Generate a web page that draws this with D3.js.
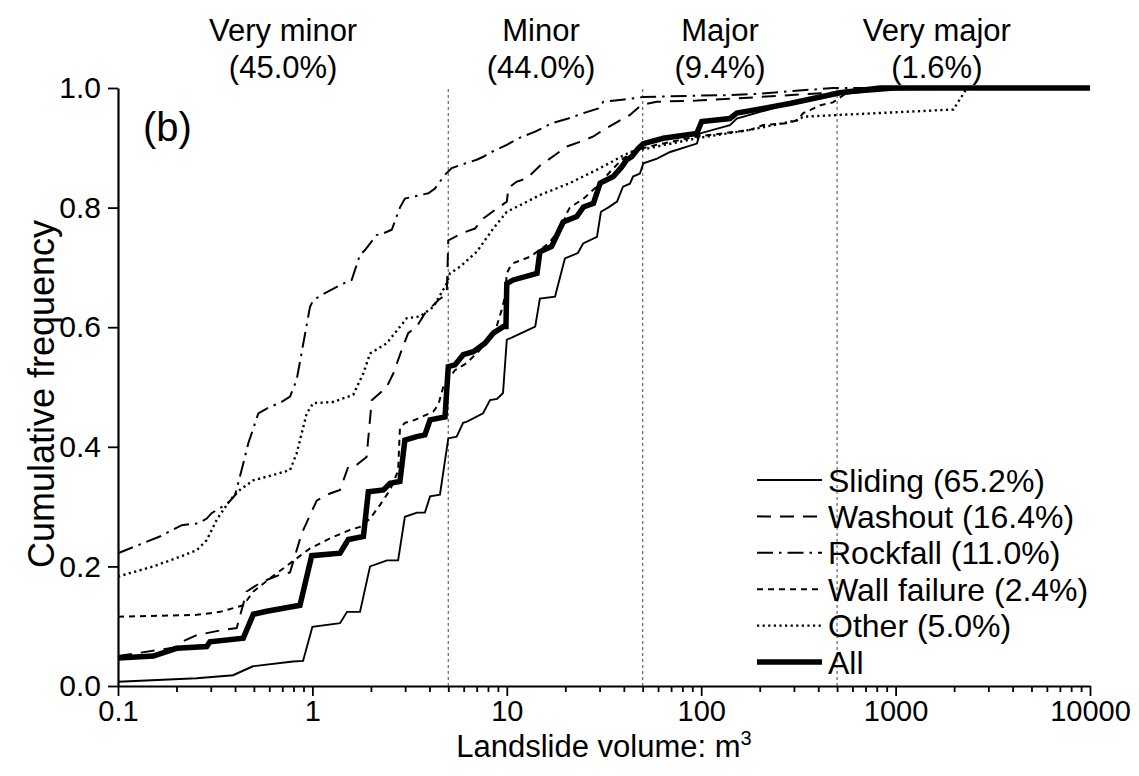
<!DOCTYPE html>
<html><head><meta charset="utf-8">
<script src="https://cdn.jsdelivr.net/npm/d3@7"></script>
<style>
body{margin:0;background:#fff}
svg text{font-family:"Liberation Sans",Arial,sans-serif;fill:#000}
</style>
</head><body>
<svg id="chart" width="1139" height="776"></svg>
<script>
// ---------- data ----------
const categories = ["Very minor", "Minor", "Major", "Very major"];
const categoryShares = ["(45.0%)", "(44.0%)", "(9.4%)", "(1.6%)"];
const classBounds = [5, 50, 500];
const seriesNames = ["Sliding (65.2%)", "Washout (16.4%)", "Rockfall (11.0%)", "Wall failure (2.4%)", "Other (5.0%)", "All"];
const xTickValues = [0.1, 1, 10, 100, 1000, 10000];
const yTickValues = [0, 0.2, 0.4, 0.6, 0.8, 1.0];

// [volume m3, cumulative frequency]
const sliding = [[0.1,0.007],[0.254,0.013],[0.391,0.018],[0.494,0.033],[0.794,0.041],[0.895,0.042],[1.0,0.099],[1.387,0.105],[1.507,0.124],[1.757,0.124],[1.98,0.2],[2.42,0.21],[2.76,0.21],[2.99,0.283],[3.45,0.29],[3.79,0.29],[4.03,0.317],[4.53,0.32],[5.0,0.414],[5.52,0.417],[5.96,0.44],[6.24,0.442],[7.55,0.456],[8.2,0.478],[8.91,0.48],[9.56,0.49],[10.0,0.579],[10.8,0.584],[14.0,0.601],[14.8,0.648],[17.7,0.651],[19.9,0.715],[23.2,0.724],[24.7,0.74],[29.1,0.751],[30.5,0.793],[33.2,0.80],[36.9,0.81],[39.6,0.835],[43.0,0.84],[44.6,0.852],[48.4,0.857],[50.4,0.874],[59.3,0.882],[69.2,0.893],[95,0.907],[98.6,0.924],[140.6,0.938],[152.4,0.949],[286,0.974],[517,0.99],[1054,0.998],[10000,1.0]];
const washout = [[0.1,0.05],[0.2,0.065],[0.213,0.074],[0.254,0.085],[0.348,0.094],[0.408,0.097],[0.459,0.158],[0.548,0.174],[0.681,0.186],[0.767,0.19],[0.881,0.255],[1.052,0.31],[1.232,0.322],[1.387,0.328],[1.53,0.367],[1.69,0.37],[1.90,0.383],[2.02,0.478],[2.41,0.50],[2.61,0.523],[2.88,0.562],[3.11,0.59],[3.44,0.601],[3.79,0.623],[4.44,0.645],[4.91,0.656],[5.0,0.745],[5.86,0.757],[6.86,0.765],[7.57,0.782],[8.69,0.796],[10.0,0.81],[10.2,0.833],[11.2,0.843],[12.7,0.849],[14.8,0.87],[17.7,0.888],[20.3,0.902],[23.8,0.91],[27.9,0.919],[31.4,0.93],[36.0,0.941],[43.0,0.955],[49.4,0.972],[59,0.977],[95,0.979],[140,0.982],[201,0.985],[349,0.99],[517,0.993],[900,1.0],[10000,1.0]];
const rockfall = [[0.1,0.222],[0.135,0.239],[0.164,0.25],[0.213,0.269],[0.259,0.272],[0.286,0.28],[0.303,0.289],[0.369,0.306],[0.40,0.319],[0.441,0.372],[0.468,0.406],[0.497,0.431],[0.527,0.456],[0.582,0.464],[0.695,0.475],[0.767,0.484],[0.83,0.512],[0.898,0.573],[0.972,0.634],[1.01,0.645],[1.116,0.654],[1.442,0.673],[1.592,0.679],[1.757,0.721],[1.865,0.729],[2.14,0.754],[2.32,0.757],[2.56,0.763],[2.82,0.80],[2.99,0.815],[3.58,0.821],[3.95,0.824],[4.27,0.832],[4.81,0.855],[5.21,0.866],[5.74,0.871],[7.0,0.88],[7.57,0.885],[8.36,0.893],[10.0,0.905],[11.5,0.916],[14.0,0.927],[17.0,0.941],[20.7,0.949],[24.8,0.958],[29.6,0.966],[31.4,0.977],[38.2,0.98],[50.4,0.985],[90,0.987],[135,0.988],[194,0.99],[297,0.995],[476,1.0],[10000,1.0]];
const wallFailure = [[0.1,0.116],[0.254,0.119],[0.335,0.124],[0.441,0.135],[0.497,0.158],[0.605,0.18],[0.767,0.205],[0.972,0.23],[1.232,0.247],[1.56,0.261],[1.757,0.266],[1.98,0.28],[2.23,0.303],[2.51,0.328],[2.76,0.36],[2.82,0.431],[2.99,0.44],[3.37,0.445],[4.19,0.459],[4.44,0.47],[4.71,0.50],[4.81,0.506],[5.41,0.528],[6.22,0.54],[7.13,0.559],[8.69,0.592],[9.41,0.629],[9.79,0.651],[10.0,0.69],[10.4,0.701],[10.8,0.707],[13.2,0.718],[16.4,0.74],[19.2,0.768],[20.3,0.79],[21.1,0.80],[24.8,0.815],[29.0,0.835],[34.0,0.86],[39.0,0.88],[45.6,0.896],[59.0,0.905],[95,0.919],[136,0.925],[178,0.93],[208.6,0.938],[273,0.941],[311,0.946],[335,0.958],[363,0.963],[409,0.971],[476,0.976],[549,0.99],[832,1.0],[10000,1.0]];
const other = [[0.1,0.183],[0.152,0.2],[0.208,0.216],[0.254,0.227],[0.286,0.244],[0.322,0.278],[0.377,0.311],[0.424,0.328],[0.497,0.344],[0.629,0.353],[0.767,0.361],[0.83,0.389],[0.935,0.456],[1.01,0.473],[1.281,0.475],[1.622,0.487],[1.828,0.523],[1.98,0.556],[2.41,0.573],[3.06,0.615],[3.58,0.618],[4.19,0.634],[4.91,0.673],[5.1,0.69],[5.74,0.701],[7.0,0.726],[8.52,0.765],[10.0,0.793],[11.7,0.804],[14.8,0.821],[21.1,0.841],[30.2,0.866],[43.0,0.893],[59.0,0.902],[95,0.916],[178,0.93],[311,0.946],[335,0.952],[517,0.955],[1982,0.964],[2230,0.99],[2328,1.0],[10000,1.0]];
const all = [[0.1,0.047],[0.152,0.05],[0.2,0.063],[0.286,0.066],[0.297,0.074],[0.441,0.08],[0.497,0.12],[0.582,0.125],[0.863,0.135],[0.992,0.218],[1.387,0.222],[1.53,0.245],[1.83,0.25],[1.94,0.325],[2.32,0.328],[2.51,0.339],[2.82,0.342],[2.99,0.411],[3.44,0.417],[3.79,0.42],[4.03,0.445],[4.81,0.45],[5.0,0.534],[5.41,0.537],[5.97,0.554],[6.73,0.559],[7.72,0.573],[8.52,0.59],[9.6,0.601],[9.9,0.601],[10.0,0.673],[10.8,0.679],[14.3,0.69],[14.8,0.726],[17.0,0.735],[19.5,0.776],[22.9,0.785],[24.8,0.801],[27.9,0.807],[30.2,0.841],[35.3,0.852],[39.0,0.868],[41.4,0.88],[43.9,0.885],[47.5,0.899],[50.4,0.907],[63.8,0.916],[94.8,0.924],[100.6,0.944],[140.6,0.949],[152.4,0.958],[208.6,0.966],[286,0.974],[517,0.992],[832,1.0],[10000,1.0]];

// ---------- drawing ----------
const svg = d3.select("#chart");
const M = {left:118, right:1090, top:88, bottom:686};
const x = d3.scaleLog().domain([0.1, 10000]).range([M.left, M.right]);
const y = d3.scaleLinear().domain([0, 1]).range([M.bottom, M.top]);

const styles = [
  {w:1.9, dash:null},
  {w:2, dash:"14,9"},
  {w:2, dash:"16,6,2.5,6"},
  {w:2, dash:"6,5"},
  {w:2.4, dash:"2.2,3.4"},
  {w:5.5, dash:null}
];
const seriesData = [sliding, washout, rockfall, wallFailure, other, all];

// class boundaries
svg.append("g").selectAll("line").data(classBounds).join("line")
  .attr("x1", d => x(d)).attr("x2", d => x(d))
  .attr("y1", y(0)).attr("y2", y(1))
  .attr("stroke", "#666").attr("stroke-width", 1.2).attr("stroke-dasharray", "3,3");

// category labels
const labelAnchors = [0.707, 15.0, 125, 1630];
const hdr = svg.append("g");
categories.forEach((c, i) => {
  hdr.append("text").attr("x", x(labelAnchors[i])).attr("y", 41)
    .attr("text-anchor", "middle").attr("font-size", 31).text(c);
  hdr.append("text").attr("x", x(labelAnchors[i])).attr("y", 78)
    .attr("text-anchor", "middle").attr("font-size", 31).text(categoryShares[i]);
});

// axes
const minorX = [];
for (let e = -1; e < 4; e++) for (let m = 2; m <= 9; m++) minorX.push(m * Math.pow(10, e));
const fmtX = d => d < 1 ? "0.1" : d3.format("d")(d);

const gx = svg.append("g").attr("transform", `translate(0,${M.bottom})`);
gx.call(d3.axisBottom(x).tickValues(xTickValues).tickFormat(fmtX).tickSize(10).tickSizeOuter(0).tickPadding(4));
const gx2 = svg.append("g").attr("transform", `translate(0,${M.bottom})`);
gx2.call(d3.axisBottom(x).tickValues(minorX).tickFormat("").tickSize(6).tickSizeOuter(0));
gx2.select(".domain").remove();

const gy = svg.append("g").attr("transform", `translate(${M.left},0)`);
gy.call(d3.axisLeft(y).tickValues(yTickValues).tickFormat(d3.format(".1f")).tickSize(10).tickSizeOuter(0).tickPadding(7));

[gx, gx2, gy].forEach(g => {
  g.selectAll("line").attr("stroke", "#000").attr("stroke-width", 1.8);
  g.selectAll(".domain").attr("stroke", "#000").attr("stroke-width", 2.2);
  g.selectAll("text").attr("font-family", '"Liberation Sans",Arial,sans-serif').attr("fill", "#000");
});
gx.selectAll("text").attr("font-size", 29);
gy.selectAll("text").attr("font-size", 30);

// axis titles
const xt = svg.append("text").attr("x", 604).attr("y", 757).attr("text-anchor", "middle").attr("font-size", 31);
xt.append("tspan").text("Landslide volume: m");
xt.append("tspan").attr("dy", -12).attr("font-size", 20).text("3");
svg.append("text").attr("transform", "translate(54,394) rotate(-90)")
  .attr("text-anchor", "middle").attr("font-size", 36).text("Cumulative frequency");

svg.append("text").attr("x", 143).attr("y", 141).attr("font-size", 40).text("(b)");

// series lines
const line = d3.line().x(d => x(d[0])).y(d => y(d[1]));
const gl = svg.append("g");
seriesData.forEach((s, i) => {
  gl.append("path").datum(s).attr("d", line)
    .attr("fill", "none").attr("stroke", "#000")
    .attr("stroke-width", styles[i].w)
    .attr("stroke-dasharray", styles[i].dash)
    .attr("stroke-linejoin", "miter");
});

// legend
const lg = svg.append("g");
seriesNames.forEach((n, i) => {
  const yy = 480 + i * 36.4;
  lg.append("line").attr("x1", 757).attr("x2", 822).attr("y1", yy).attr("y2", yy)
    .attr("stroke", "#000").attr("stroke-width", styles[i].w).attr("stroke-dasharray", styles[i].dash);
  lg.append("text").attr("x", 828).attr("y", yy).attr("dy", "0.36em").attr("font-size", 32).text(n);
});
</script>
</body></html>
